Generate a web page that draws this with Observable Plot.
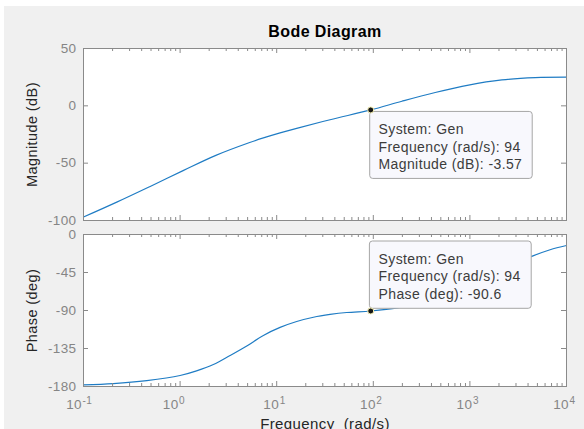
<!DOCTYPE html>
<html>
<head>
<meta charset="utf-8">
<script src="https://cdn.jsdelivr.net/npm/d3@7"></script>
<script src="https://cdn.jsdelivr.net/npm/@observablehq/plot@0.6"></script>
<style>
html, body { margin: 0; padding: 0; background: #ffffff; }
#fig { position: relative; width: 584px; height: 429px; overflow: hidden; }
#bg { position: absolute; left: 4px; top: 6px; right: 0; bottom: 0; background: #f0f0f0; }
.panel { position: absolute; left: 0; }
</style>
</head>
<body>
<div id="fig">
  <div id="bg"></div>
  <div id="p1" class="panel" style="top:0px"></div>
  <div id="p2" class="panel" style="top:220px"></div>
</div>
<script>
// ---- data ----
const magFreq = [0.1, 0.221, 0.49, 1.074, 2.377, 5.25, 7.28, 10.84, 16.1, 35.7, 94, 197.7, 437.5, 968, 2143, 4742, 10000];
const magDb   = [-97, -84, -70.3, -56.5, -43, -32, -28, -23.6, -19.6, -12.1, -3.57, 4, 11.6, 18.1, 22.6, 24.6, 25];

const phaseFreq = [0.1, 0.204, 0.452, 1, 1.48, 2.21, 3.29, 4.9, 7.28, 10.84, 16.1, 24, 35.7, 53.1, 94, 178, 316, 562, 1000, 1778, 3162, 4571, 6761, 10000];
const phaseDeg  = [-178, -176.5, -173, -167, -161.5, -154, -143.3, -132, -119.5, -110, -103, -98, -94.7, -92.4, -90.6, -87, -81, -72, -60, -46.5, -33, -25, -18, -13];

const magTicks = [50, 0, -50, -100];
const phaseTicks = [0, -45, -90, -135, -180];
const xDecades = [0.1, 1, 10, 100, 1000, 10000];
const xExponents = ["-1", "0", "1", "2", "3", "4"];

const tipFreq = 94;
const tipMag = -3.57;
const tipPhase = -90.6;
const tipMagLines = ["System: Gen", "Frequency (rad/s): 94", "Magnitude (dB): -3.57"];
const tipPhaseLines = ["System: Gen", "Frequency (rad/s): 94", "Phase (deg): -90.6"];

const title = "Bode Diagram";
const yLabelMag = "Magnitude (dB)";
const yLabelPhase = "Phase (deg)";
const xLabel = "Frequency  (rad/s)";

// ---- styles ----
const W = 584, ML = 83, MR = 18;
const innerW = W - ML - MR;
const lineColor = "#1f7cc4";
const frameColor = "#8a8a8a";
const tickLabelColor = "#858585";
const labelColor = "#262626";
const tipText = "#3c3c3c";
const svgStyle = {
  background: "transparent",
  overflow: "visible",
  fontFamily: "'Liberation Sans', Arial, sans-serif",
  letterSpacing: "0.4px"
};
const minorTicks = d3.scaleLog().domain([0.1, 10000]).ticks().filter(v => !xDecades.some(d => Math.abs(d - v) / d < 1e-9));

function tickMarks(yTicks, innerH) {
  return [
    Plot.ruleY(yTicks, {y: d => d, stroke: frameColor, insetRight: innerW - 5}),
    Plot.ruleY(yTicks, {y: d => d, stroke: frameColor, insetLeft: innerW - 5}),
    Plot.ruleX(xDecades, {x: d => d, stroke: frameColor, insetTop: innerH - 5}),
    Plot.ruleX(xDecades, {x: d => d, stroke: frameColor, insetBottom: innerH - 5}),
    Plot.ruleX(minorTicks, {x: d => d, stroke: frameColor, insetTop: innerH - 3}),
    Plot.ruleX(minorTicks, {x: d => d, stroke: frameColor, insetBottom: innerH - 3})
  ];
}

function yTickLabels(yTicks) {
  return Plot.text(yTicks, {y: d => d, text: d => String(d), frameAnchor: "left", textAnchor: "end", dx: -7, fontSize: 13.5, fill: tickLabelColor});
}

function tipTexts(val, lines, base) {
  return lines.map((ln, i) => Plot.text([0], {
    x: [tipFreq], y: [val], text: () => ln,
    textAnchor: "start", lineAnchor: "bottom", dx: 7.8, dy: base + i * 17.6,
    fontSize: 14, fill: tipText
  }));
}

// ---- magnitude panel ----
const H1 = 232, MT1 = 48, MB1 = 12;
const magPlot = Plot.plot({
  width: W, height: H1, marginTop: MT1, marginBottom: MB1, marginLeft: ML, marginRight: MR,
  style: svgStyle,
  x: {type: "log", domain: [0.1, 10000], axis: null},
  y: {domain: [-100, 50], axis: null},
  marks: [
    Plot.frame({fill: "white", stroke: "none"}),
    Plot.line(magFreq, {x: magFreq, y: magDb, stroke: lineColor, strokeWidth: 1.2, curve: "catmull-rom"}),
    ...tickMarks(magTicks, H1 - MT1 - MB1),
    Plot.frame({stroke: frameColor, fill: "none"}),
    yTickLabels(magTicks),
    Plot.text([title], {text: d => d, frameAnchor: "top", lineAnchor: "bottom", dy: -11.3, fontSize: 16, fontWeight: "bold", fill: "#000"}),
    Plot.text([yLabelMag], {text: d => d, frameAnchor: "left", textAnchor: "middle", rotate: -90, dx: -51, fontSize: 14.5, fill: labelColor}),
    Plot.rect([0], {x1: [tipFreq], x2: [tipFreq], y1: [tipMag], y2: [tipMag],
      insetLeft: -0.5, insetRight: -162, insetTop: 2, insetBottom: -69,
      fill: "#f8f8fd", stroke: "#a6a6a6", rx: 3}),
    ...tipTexts(tipMag, tipMagLines, 24.1),
    Plot.dot([0], {x: [tipFreq], y: [tipMag], r: 3, fill: "#151515", stroke: "#f5f0b0", strokeWidth: 1})
  ]
});
document.getElementById("p1").appendChild(magPlot);

// ---- phase panel ----
const H2 = 209, MT2 = 14, MB2 = 43;
const phasePlot = Plot.plot({
  width: W, height: H2, marginTop: MT2, marginBottom: MB2, marginLeft: ML, marginRight: MR,
  style: svgStyle,
  x: {type: "log", domain: [0.1, 10000], axis: null},
  y: {domain: [-180, 0], axis: null},
  marks: [
    Plot.frame({fill: "white", stroke: "none"}),
    Plot.line(phaseFreq, {x: phaseFreq, y: phaseDeg, stroke: lineColor, strokeWidth: 1.2, curve: "catmull-rom"}),
    ...tickMarks(phaseTicks, H2 - MT2 - MB2),
    Plot.frame({stroke: frameColor, fill: "none"}),
    yTickLabels(phaseTicks),
    Plot.text(xDecades.slice(0, 2), {x: d => d, text: () => "10", frameAnchor: "bottom", textAnchor: "end", lineAnchor: "bottom", dx: -1.5, dy: 22.3, fontSize: 13.5, fill: tickLabelColor}),
    Plot.text(xDecades.slice(0, 2), {x: d => d, text: (d, i) => xExponents[i], frameAnchor: "bottom", textAnchor: "start", lineAnchor: "bottom", dx: -1, dy: 17, fontSize: 10, fill: tickLabelColor}),
    Plot.text(xDecades.slice(2), {x: d => d, text: () => "10", frameAnchor: "bottom", textAnchor: "end", lineAnchor: "bottom", dx: 2.5, dy: 22.3, fontSize: 13.5, fill: tickLabelColor}),
    Plot.text(xDecades.slice(2), {x: d => d, text: (d, i) => xExponents[i + 2], frameAnchor: "bottom", textAnchor: "start", lineAnchor: "bottom", dx: 3, dy: 17, fontSize: 10, fill: tickLabelColor}),
    Plot.text([yLabelPhase], {text: d => d, frameAnchor: "left", textAnchor: "middle", rotate: -90, dx: -51, fontSize: 14.5, fill: labelColor}),
    Plot.text([xLabel], {text: d => d, frameAnchor: "bottom", lineAnchor: "bottom", dy: 42.5, fontSize: 15, fill: labelColor}),
    Plot.rect([0], {x1: [tipFreq], x2: [tipFreq], y1: [tipPhase], y2: [tipPhase],
      insetLeft: -0.8, insetRight: -161, insetTop: -69.5, insetBottom: 2.2,
      fill: "#f8f8fd", stroke: "#a6a6a6", rx: 3}),
    ...tipTexts(tipPhase, tipPhaseLines, -47.5),
    Plot.dot([0], {x: [tipFreq], y: [tipPhase], r: 3, fill: "#151515", stroke: "#f5f0b0", strokeWidth: 1})
  ]
});
document.getElementById("p2").appendChild(phasePlot);
</script>
</body>
</html>
